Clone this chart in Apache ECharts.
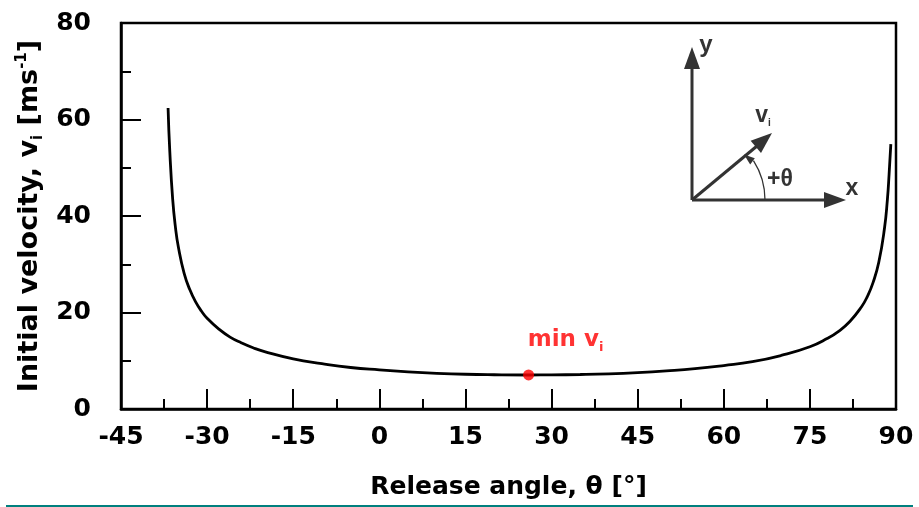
<!DOCTYPE html>
<html>
<head>
    <meta charset="utf-8" />
    <title>Release angle vs initial velocity</title>
    <script src="https://cdn.jsdelivr.net/npm/echarts@6.0.0/dist/echarts.min.js"></script>
    <style>
        * { margin: 0; padding: 0; box-sizing: border-box; }
        body { background: #fff; }
        #chart { width: 919px; height: 507px; }
    </style>
</head>
<body>
    <div id="chart"></div>

    <script>
        // values
        const theta = [-36.8, -36.5, -36, -35.5, -35, -34, -33, -32, -31, -30, -28, -26, -24, -22, -20, -15, -10, -5, 0, 5, 10, 15, 20, 26, 30, 35, 40, 45, 50, 55, 60, 65, 70, 75, 78, 80, 82, 84, 85, 86, 87, 88, 88.5, 88.8, 89.1];
        const velocity = [62.4, 53.4, 43.5, 37.5, 33.5, 28.1, 24.7, 22.2, 20.3, 18.8, 16.6, 14.9, 13.7, 12.7, 11.9, 10.4, 9.4, 8.6, 8.1, 7.7, 7.4, 7.2, 7.1, 7.05, 7.07, 7.15, 7.3, 7.55, 7.9, 8.35, 9.0, 9.8, 11.1, 12.9, 14.6, 16.1, 18.2, 21.2, 23.3, 26.2, 30.4, 37.5, 43.4, 48.7, 54.9];
        const minPoint = [26, 7.05];
        const xTicks = { min: -45, max: 90, step: 15 };
        const yTicks = { min: 0, max: 80, step: 20 };

        const chart = echarts.init(document.getElementById('chart'));
        const mainFont = 'DejaVu Sans';
        const insetFont = 'Liberation Sans';
        const ink = '#333';

        function insetText(x, y, text, size, extra) {
            return {
                type: 'text', x: x, y: y,
                style: Object.assign({
                    text: text, fill: ink, fontFamily: insetFont, fontWeight: 'bold', fontSize: size,
                    align: 'center', verticalAlign: 'middle'
                }, extra || {})
            };
        }

        // inset diagram (axes + release vector)
        const ox = 692, oy = 200;
        const inset = [
            { type: 'line', shape: { x1: ox, y1: oy, x2: ox, y2: 66 }, style: { stroke: ink, lineWidth: 3 } },
            { type: 'polygon', shape: { points: [[ox, 47], [ox - 8, 69], [ox + 8, 69]] }, style: { fill: ink } },
            { type: 'line', shape: { x1: ox, y1: oy, x2: 826, y2: oy }, style: { stroke: ink, lineWidth: 3 } },
            { type: 'polygon', shape: { points: [[846, oy], [824, oy - 8], [824, oy + 8]] }, style: { fill: ink } },
            { type: 'line', shape: { x1: ox, y1: oy, x2: 757, y2: 146 }, style: { stroke: ink, lineWidth: 3 } },
            { type: 'polygon', shape: { points: [[772, 133], [761, 153], [750.6, 140.8]] }, style: { fill: ink } },
            { type: 'arc', shape: { cx: ox, cy: oy, r: 73, startAngle: 0, endAngle: -0.57, clockwise: false }, style: { stroke: ink, lineWidth: 1.3, fill: null } },
            { type: 'polygon', shape: { points: [[744, 154.5], [754.8, 158.2], [750.2, 164.6]] }, style: { fill: ink } },
            insetText(706, 45, 'y', 24),
            insetText(852, 189, 'x', 23),
            insetText(763, 116, 'v{s|i}', 23, {
                rich: { s: { fill: ink, fontFamily: insetFont, fontWeight: 'bold', fontSize: 10, verticalAlign: 'bottom', lineHeight: 25 } }
            }),
            insetText(780, 180, '+θ', 23),
            // teal rule under the chart
            { type: 'rect', shape: { x: 6, y: 505, width: 907, height: 2 }, style: { fill: '#00807e' } }
        ];

        const tickLine = { color: '#000', width: 2 };

        const option = {
            animation: false,
            backgroundColor: '#fff',
            grid: {
                left: 121, right: 23, top: 23, bottom: 98,
                show: true, borderColor: '#000', borderWidth: 2.5
            },
            xAxis: {
                type: 'value',
                min: xTicks.min, max: xTicks.max, interval: xTicks.step,
                name: 'Release angle, θ [°]',
                nameLocation: 'middle',
                nameGap: 66,
                nameTextStyle: { color: '#000', fontFamily: mainFont, fontWeight: 'bold', fontSize: 25 },
                axisLine: { onZero: false, lineStyle: { color: '#000', width: 2.5 } },
                axisTick: { inside: true, length: 20, lineStyle: tickLine },
                minorTick: { show: true, splitNumber: 2, length: 10, lineStyle: tickLine },
                splitLine: { show: false },
                axisLabel: { color: '#000', fontFamily: mainFont, fontWeight: 'bold', fontSize: 25, margin: 16 }
            },
            yAxis: {
                type: 'value',
                min: yTicks.min, max: yTicks.max, interval: yTicks.step,
                name: 'Initial velocity, v{sub|i} [ms{sup|-1}]',
                nameLocation: 'middle',
                nameGap: 74,
                nameTextStyle: {
                    color: '#000', fontFamily: mainFont, fontWeight: 'bold', fontSize: 27,
                    rich: {
                        sub: { color: '#000', fontFamily: mainFont, fontWeight: 'bold', fontSize: 15, verticalAlign: 'bottom', lineHeight: 31 },
                        sup: { color: '#000', fontFamily: mainFont, fontWeight: 'bold', fontSize: 15, verticalAlign: 'top', lineHeight: 31 }
                    }
                },
                axisLine: { onZero: false, lineStyle: { color: '#000', width: 2.5 } },
                axisTick: { inside: true, length: 20, lineStyle: tickLine },
                minorTick: { show: true, splitNumber: 2, length: 10, lineStyle: tickLine },
                splitLine: { show: false },
                axisLabel: { color: '#000', fontFamily: mainFont, fontWeight: 'bold', fontSize: 25, margin: 30 }
            },
            series: [
                {
                    name: 'v_i',
                    type: 'line',
                    data: theta.map((t, i) => [t, velocity[i]]),
                    showSymbol: false,
                    smooth: 0.5,
                    lineStyle: { color: '#000', width: 2.8 },
                    z: 3
                },
                {
                    name: 'min v_i',
                    type: 'scatter',
                    data: [minPoint],
                    symbol: 'circle',
                    symbolSize: 11,
                    itemStyle: { color: '#ff0000' },
                    label: {
                        show: true,
                        position: 'top',
                        offset: [37, -10],
                        formatter: 'min v{s|i}',
                        color: '#ff0000',
                        fontFamily: mainFont,
                        fontWeight: 'bold',
                        fontSize: 23,
                        rich: {
                            s: { color: '#ff0000', fontFamily: mainFont, fontWeight: 'bold', fontSize: 13, verticalAlign: 'bottom', lineHeight: 28 }
                        }
                    },
                    z: 4
                }
            ],
            graphic: inset
        };

        chart.setOption(option);

        window.addEventListener('resize', function () {
            chart.resize();
        });
    </script>
</body>
</html>
